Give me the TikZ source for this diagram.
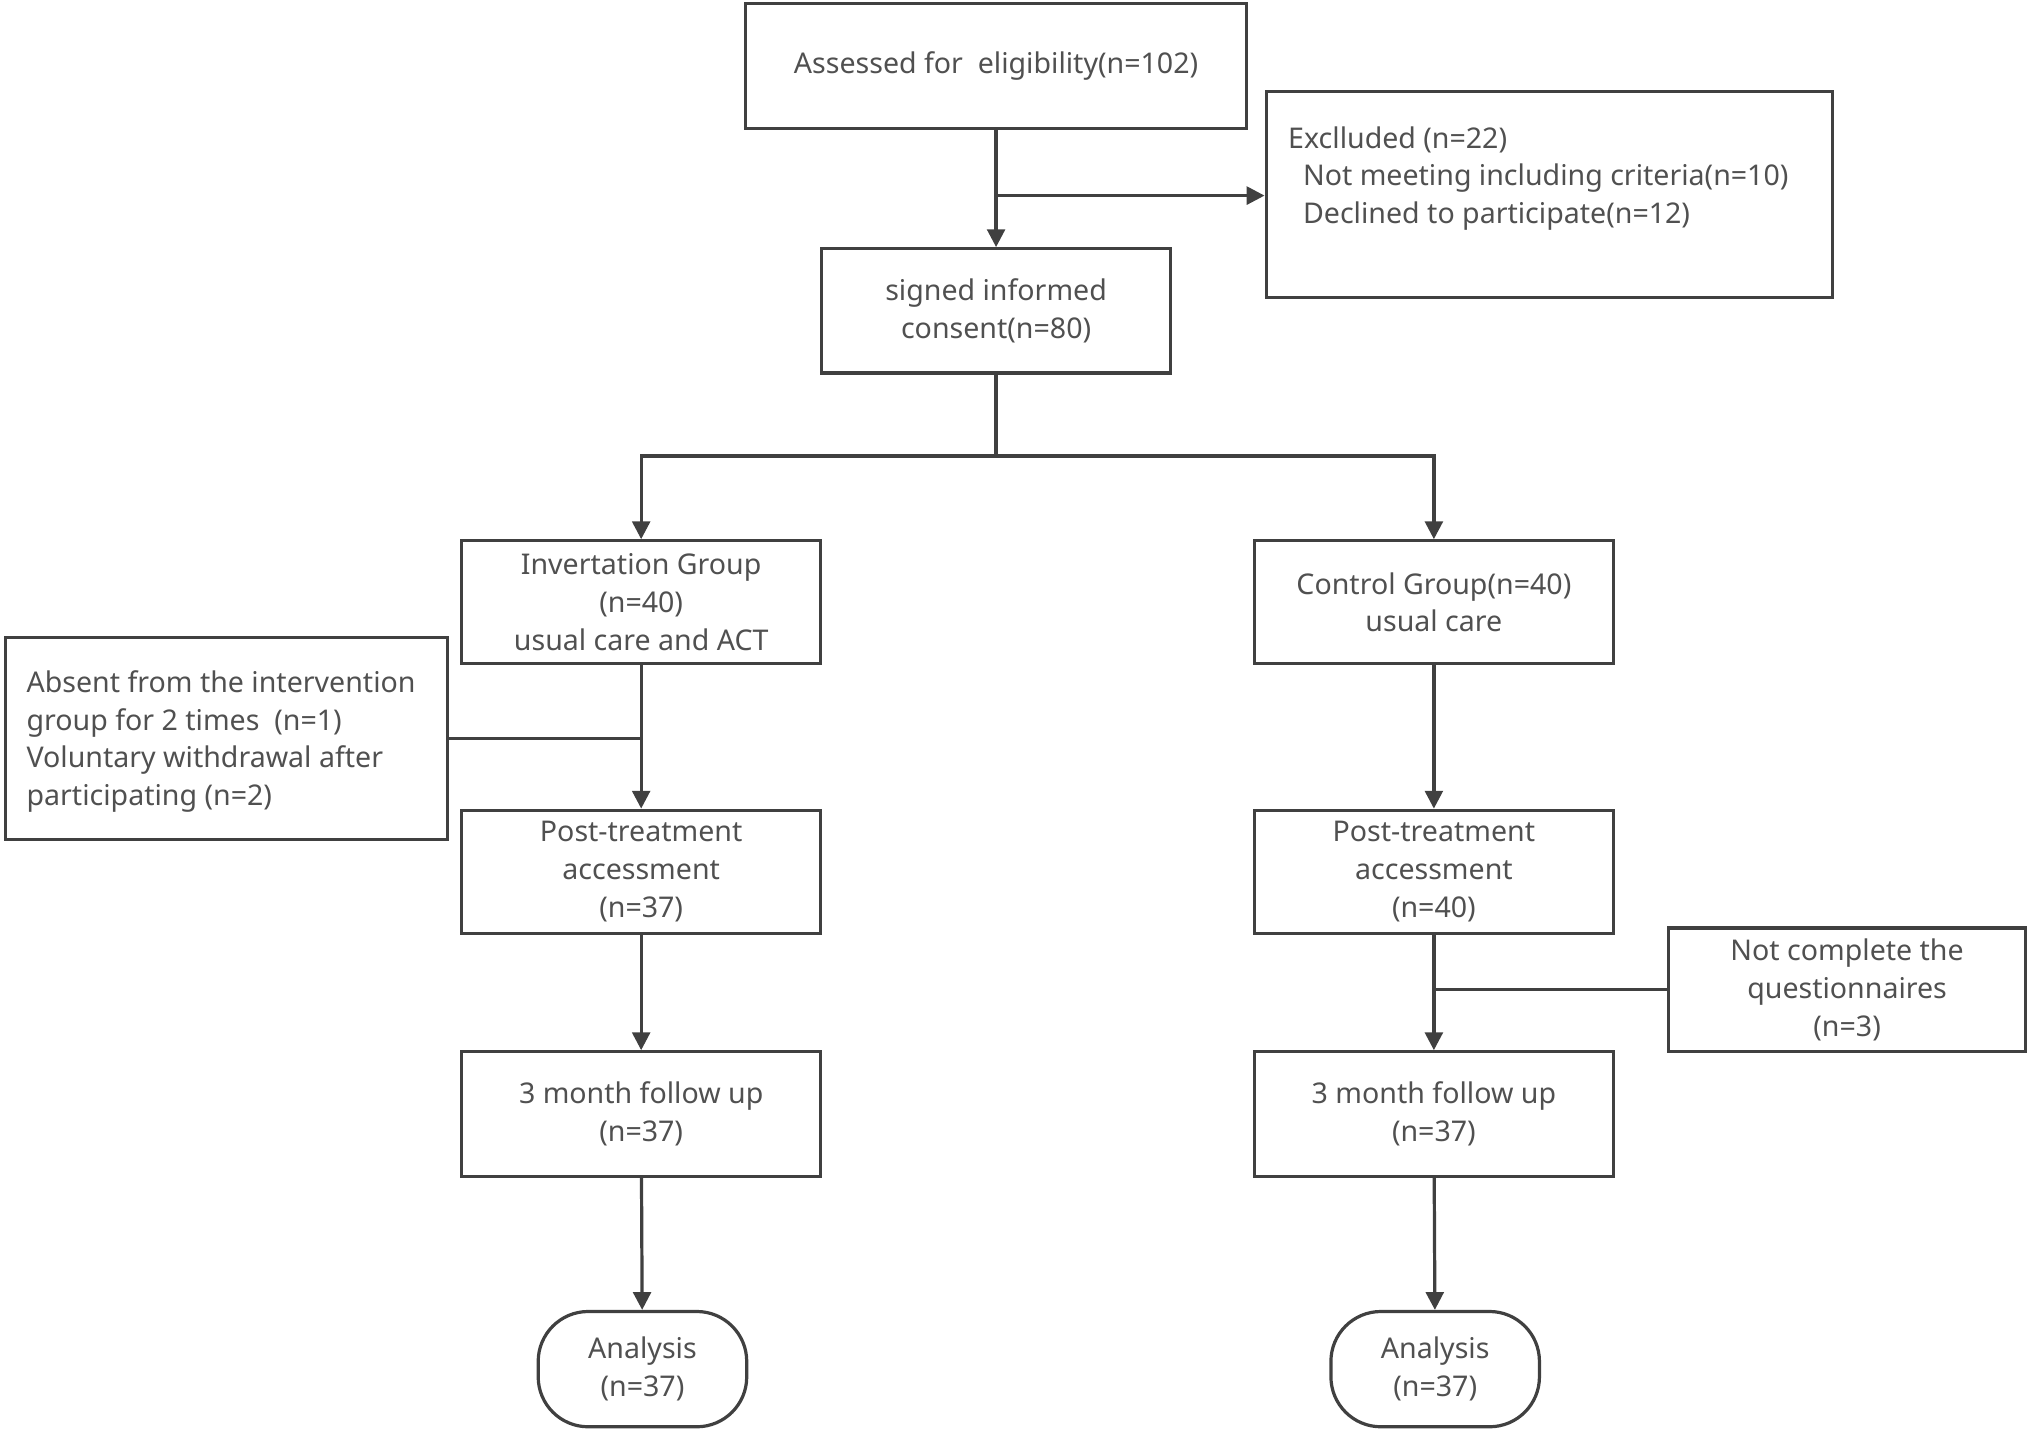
\documentclass[tikz,border=0pt]{standalone}
\usepackage{fontspec}
\setmainfont{Noto Sans}
\usetikzlibrary{arrows.meta}
\definecolor{linegray}{HTML}{404040}
\definecolor{textgray}{HTML}{505050}
\tikzset{
  box/.style={draw=linegray, line width=0.9pt, text=textgray, align=center,
    font=\fontsize{8}{10.6}\selectfont, inner sep=0pt},
  txt/.style={text=textgray, anchor=north west, align=left,
    font=\fontsize{8}{10.6}\selectfont, inner sep=0pt},
  flow/.style={draw=linegray, line width=0.9pt, -{Triangle[length=5pt,width=5pt]}},
  plain/.style={draw=linegray, line width=0.7pt}
}
\begin{document}
\begin{tikzpicture}[x=0.01276cm, y=-0.01276cm]
        \useasboundingbox (0,0) rectangle (1568,1106);

        \node[box, minimum width=387*0.01276cm, minimum height=96*0.01276cm] (assess) at (769,51) {Assessed for\ \ eligibility(n=102)};
        \node[box, minimum width=437*0.01276cm, minimum height=159*0.01276cm] (excl) at (1196,150) {};
        \node[txt] (excltext) at (994,97) {Exclluded (n=22)\\\ \ Not meeting including criteria(n=10)\\\ \ Declined to participate(n=12)};
        \node[box, minimum width=269*0.01276cm, minimum height=96*0.01276cm] (consent) at (769,240) {signed informed\\consent(n=80)};

        \node[box, minimum width=277*0.01276cm, minimum height=95*0.01276cm] (inv) at (495,465) {Invertation Group\\(n=40)\\usual care and ACT};
        \node[box, minimum width=277*0.01276cm, minimum height=95*0.01276cm] (ctrl) at (1107,465) {Control Group(n=40)\\usual care};
        \node[box, minimum width=341*0.01276cm, minimum height=156*0.01276cm] (absent) at (175,570) {};
        \node[txt] (absenttext) at (20,517) {Absent from the intervention\\group for 2 times\ \ (n=1)\\Voluntary withdrawal after\\participating (n=2)};

        \node[box, minimum width=277*0.01276cm, minimum height=95*0.01276cm] (postl) at (495,673) {Post-treatment\\accessment\\(n=37)};
        \node[box, minimum width=277*0.01276cm, minimum height=95*0.01276cm] (postr) at (1107,673) {Post-treatment\\accessment\\(n=40)};
        \node[box, minimum width=276*0.01276cm, minimum height=95*0.01276cm] (notc) at (1426,764) {Not complete the\\questionnaires\\(n=3)};

        \node[box, minimum width=277*0.01276cm, minimum height=96*0.01276cm] (folll) at (495,860) {3 month follow up\\(n=37)};
        \node[box, minimum width=277*0.01276cm, minimum height=96*0.01276cm] (follr) at (1107,860) {3 month follow up\\(n=37)};

        \node[box, rounded corners=14pt, minimum width=161*0.01276cm, minimum height=89*0.01276cm] (anl) at (496,1057) {Analysis\\(n=37)};
        \node[box, rounded corners=14pt, minimum width=161*0.01276cm, minimum height=89*0.01276cm] (anr) at (1108,1057) {Analysis\\(n=37)};

        % connectors
        \draw[flow] (assess) -- (consent);
        \coordinate (exclfork) at (769,151);
        \draw[flow] (exclfork) -- (excl.west |- exclfork);
        \coordinate (split) at (769,352);
        \draw[plain, line width=0.9pt] (consent.south) -- (split);
        \draw[flow] (split) -| (inv.north);
        \draw[flow] (split) -| (ctrl.north);
        \draw[flow] (inv) -- (postl);
        \draw[flow] (ctrl) -- (postr);
        \draw[plain] (absent.east) -- (absent.east -| inv.south);
        \draw[flow] (postl) -- (folll);
        \draw[flow] (postr) -- (follr);
        \draw[plain] (notc.west) -- (notc.west -| postr.south);
        \draw[flow] (folll) -- (anl);
        \draw[flow] (follr) -- (anr);

    \end{tikzpicture}
\end{document}
